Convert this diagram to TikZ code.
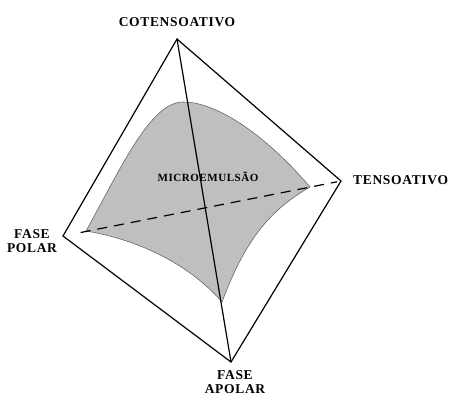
\documentclass[tikz,border=0pt]{standalone}
\usepackage{fontspec}
\setmainfont{Liberation Serif}
\newfontfamily\lblfont[LetterSpace=5]{Liberation Serif}
\newfontfamily\midfont[LetterSpace=5]{Liberation Serif}
\begin{document}
\begin{tikzpicture}[x=1pt,y=-1pt,
  edge/.style={line width=1.2pt,black},
  region/.style={fill=gray!50,draw=gray!80!black,line width=0.6pt},
  vlabel/.style={font=\lblfont\bfseries\fontsize{13.5}{14}\selectfont,align=center,inner sep=0pt}]
\useasboundingbox (0,0) rectangle (453,396);
\coordinate (C) at (177,39);
\coordinate (T) at (341,181);
\coordinate (P) at (63,236);
\coordinate (A) at (231,362);
\coordinate (rl) at (86,231);
\coordinate (rt) at (183,102);
\coordinate (rr) at (310,187);
\coordinate (rb) at (222,302);
\path[region] (rl) .. controls (120,170) and (150,102) .. (rt)
  .. controls (220,102) and (270,140) .. (rr)
  .. controls (270,210) and (245,240) .. (rb)
  .. controls (190,265) and (140,240) .. (rl) -- cycle;
\draw[edge,line join=miter] (P) -- (C) -- (T) -- (A) -- cycle;
\draw[edge] (C) -- (A);
\draw[edge,dash pattern=on 10pt off 7pt,shorten <=18pt,shorten >=4pt] (P) -- (T);
\node[vlabel] (lc) at (177,22) {COTENSOATIVO};
\node[vlabel,anchor=west] (lt) at (353,180) {TENSOATIVO};
\node[vlabel] (lp) at (32,241) {FASE\\POLAR};
\node[vlabel] (la) at (235,382) {FASE\\APOLAR};
\node[font=\midfont\bfseries\fontsize{11}{12}\selectfont,inner sep=0pt] (lm) at (208,177) {MICROEMULSÃO};
\end{tikzpicture}
\end{document}
